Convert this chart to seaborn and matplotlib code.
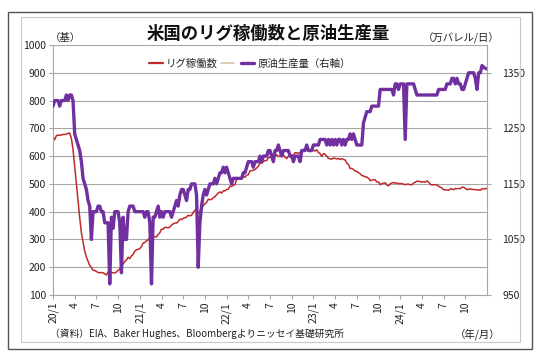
import numpy as np
import pandas as pd
import matplotlib
matplotlib.use("Agg")
import matplotlib.pyplot as plt
import seaborn as sns
from matplotlib.lines import Line2D
from matplotlib.patches import Rectangle

# ---------------- data (weekly, Fridays, from 2020-01-03) ----------------
start_date = "2020-01-03"

rig_count = [
    # 2020
    670, 659, 673, 676, 675, 676, 678, 678, 679, 682, 683, 664, 624,
    562, 504, 438, 378, 325, 292, 258, 237, 222, 206, 199, 189, 188,
    185, 181, 180, 181, 180, 176, 172, 183, 180, 181, 180, 179, 183,
    189, 193, 205, 211, 221, 226, 236, 231, 241, 246, 258, 263, 264,
    # 2021
    267, 275, 287, 289, 295, 299, 306, 305, 309, 310, 309, 318, 324,
    337, 337, 344, 343, 342, 344, 352, 356, 359, 359, 365, 373, 372,
    376, 378, 380, 387, 385, 387, 397, 405, 410, 394, 401, 411, 421,
    428, 433, 445, 443, 444, 450, 454, 461, 467, 471, 467, 475, 475, 480,
    # 2022
    481, 492, 491, 495, 497, 516, 520, 522, 519, 527, 524, 531, 533,
    546, 548, 549, 552, 557, 563, 576, 574, 580, 584, 584, 594, 595,
    597, 599, 599, 605, 598, 601, 601, 605, 596, 591, 599, 602, 604,
    602, 612, 612, 610, 613, 622, 623, 627, 625, 627, 622, 621, 621,
    # 2023
    618, 623, 613, 609, 599, 609, 607, 600, 592, 590, 589, 593, 592,
    590, 591, 588, 591, 588, 586, 575, 570, 555, 556, 552, 546, 545,
    540, 537, 530, 529, 525, 525, 520, 512, 513, 515, 515, 507, 507,
    497, 501, 502, 504, 496, 493, 500, 503, 505, 503, 503, 501, 501,
    # 2024
    501, 499, 497, 499, 499, 497, 497, 503, 506, 510, 509, 509, 506,
    508, 506, 511, 506, 499, 496, 497, 497, 496, 492, 488, 485, 479,
    479, 478, 477, 482, 482, 479, 483, 483, 483, 483, 488, 488, 484,
    479, 481, 482, 480, 480, 479, 478, 479, 477, 482, 482, 483, 483,
]

oil_output = [
    # 2020
    1290, 1300, 1300, 1300, 1290, 1300, 1300, 1300, 1310, 1300, 1310, 1310, 1300,
    1240, 1230, 1220, 1210, 1190, 1160, 1150, 1140, 1120, 1110, 1050, 1100, 1100,
    1100, 1110, 1110, 1100, 1100, 1080, 1080, 1080, 970, 1090, 1070, 1100, 1100,
    1100, 1080, 990, 1090, 1050, 1050, 1100, 1110, 1110, 1110, 1100, 1100, 1100,
    # 2021
    1100, 1100, 1100, 1090, 1100, 1100, 1080, 970, 1090, 1090, 1100, 1110, 1090,
    1100, 1090, 1100, 1100, 1100, 1100, 1090, 1100, 1110, 1120, 1110, 1130, 1140,
    1140, 1130, 1120, 1140, 1140, 1150, 1150, 1150, 1130, 1000, 1080, 1110, 1130,
    1140, 1130, 1140, 1150, 1150, 1150, 1160, 1150, 1160, 1170, 1170, 1180, 1170, 1180,
    # 2022
    1170, 1160, 1150, 1160, 1160, 1160, 1160, 1160, 1160, 1170, 1170, 1180, 1190,
    1190, 1190, 1180, 1190, 1190, 1190, 1200, 1190, 1200, 1200, 1200, 1210, 1210,
    1200, 1190, 1210, 1210, 1220, 1210, 1200, 1210, 1210, 1210, 1210, 1200, 1200,
    1190, 1200, 1200, 1200, 1190, 1210, 1210, 1210, 1220, 1210, 1210, 1210, 1220,
    # 2023
    1220, 1220, 1220, 1230, 1230, 1230, 1230, 1220, 1230, 1220, 1230, 1220, 1230,
    1220, 1230, 1230, 1220, 1230, 1220, 1230, 1230, 1240, 1230, 1240, 1230, 1220,
    1220, 1220, 1220, 1260, 1270, 1280, 1280, 1280, 1290, 1290, 1290, 1290, 1290,
    1320, 1320, 1320, 1320, 1320, 1320, 1320, 1320, 1310, 1330, 1330, 1320, 1330,
    # 2024
    1330, 1330, 1230, 1330, 1330, 1330, 1330, 1330, 1320, 1310, 1310, 1310, 1310,
    1310, 1310, 1310, 1310, 1310, 1310, 1310, 1310, 1310, 1320, 1320, 1320, 1320,
    1320, 1330, 1330, 1330, 1340, 1340, 1330, 1340, 1330, 1330, 1320, 1320, 1330,
    1340, 1350, 1350, 1350, 1350, 1340, 1320, 1350, 1350, 1363, 1360, 1358, 1357,
]

x_tick_labels = ["20/1", "4", "7", "10", "21/1", "4", "7", "10", "22/1", "4",
                 "7", "10", "23/1", "4", "7", "10", "24/1", "4", "7", "10"]
left_ticks = [100, 200, 300, 400, 500, 600, 700, 800, 900, 1000]
right_ticks = [950, 1050, 1150, 1250, 1350]

# ---------------- style ----------------
sns.set_style("white")
plt.rcParams['font.family'] = ['Noto Sans CJK JP', 'DejaVu Sans']

dates = pd.date_range(start_date, periods=len(rig_count), freq="W-FRI")
df = pd.DataFrame({"date": dates, "rig": rig_count, "oil": oil_output})

W, H = 540, 360
fig = plt.figure(figsize=(W / 100, H / 100), dpi=100)

# frames
fig.patches.append(Rectangle((8 / W, 1 - 349 / H), (532 - 8) / W, (349 - 12) / H,
                             transform=fig.transFigure, fill=False,
                             edgecolor="#555555", lw=1.0))
fig.patches.append(Rectangle((21 / W, 1 - 342 / H), (520 - 21) / W, (342 - 17) / H,
                             transform=fig.transFigure, fill=False,
                             edgecolor="#C8C8C8", lw=0.8))

ax = fig.add_axes([53 / W, 1 - 295 / H, (487 - 53) / W, (295 - 45) / H])
ax2 = ax.twinx()

red = "#BE2A2A"
purple = "#7030A0"
grid_c = "#A6A6A6"

sns.lineplot(data=df, x="date", y="rig", ax=ax, color=red, lw=1.1, legend=False)
sns.lineplot(data=df, x="date", y="oil", ax=ax2, color=purple, lw=2.4, legend=False)

ax.set_ylim(100, 1000)
ax2.set_ylim(950, 1400)
ax.set_xlim(dates[0], dates[-1])
ax.set_yticks(left_ticks)
ax2.set_yticks(right_ticks)

tick_pos = dates[::13][:len(x_tick_labels)]
ax.set_xticks(tick_pos)
ax.set_xticklabels(x_tick_labels, rotation=90, fontsize=7.5, color="#222222")

ax.yaxis.grid(True, color=grid_c, lw=0.8)
ax.xaxis.grid(False)
ax2.grid(False)
ax.set_axisbelow(True)

for a in (ax, ax2):
    a.set_xlabel("")
    a.set_ylabel("")
    for s in a.spines.values():
        s.set_color(grid_c)
        s.set_linewidth(0.8)
    a.spines["top"].set_visible(False)
ax.spines["right"].set_visible(False)
ax2.spines["left"].set_visible(False)
ax2.spines["bottom"].set_visible(False)

ax.tick_params(axis="y", length=3, color=grid_c, labelsize=7.5, pad=2, labelcolor="#222222", left=True)
ax.tick_params(axis="x", length=3, color=grid_c, pad=2, bottom=True)
ax2.tick_params(axis="y", length=3, color=grid_c, labelsize=7.5, pad=8, labelcolor="#222222", right=True)

# texts
fig.text(268 / W, 1 - 34 / H, "米国のリグ稼働数と原油生産量", ha="center", va="center",
         fontsize=12.5, fontweight="bold", color="#111111")
fig.text(50 / W, 1 - 38 / H, "（基）", ha="left", va="center", fontsize=7.5, color="#222222")
fig.text(500 / W, 1 - 38 / H, "（万バレル/日）", ha="right", va="center", fontsize=7.5, color="#222222")
fig.text(50 / W, 1 - 334 / H, "（資料）EIA、Baker Hughes、Bloombergよりニッセイ基礎研究所",
         ha="left", va="center", fontsize=7, color="#222222")
fig.text(500 / W, 1 - 334 / H, "（年/月）", ha="right", va="center", fontsize=7.5, color="#222222")

handles = [Line2D([], [], color=red, lw=1.6),
           Line2D([], [], color="#D9C3A5", lw=1.2),
           Line2D([], [], color=purple, lw=2.4)]
labels = ["リグ稼働数", "", "原油生産量（右軸）"]
fig.legend(handles, labels, loc="center", bbox_to_anchor=(250 / W, 1 - 64 / H),
           ncol=3, frameon=False, fontsize=7.5, handlelength=1.3, handletextpad=0.3,
           columnspacing=0.3)

fig.savefig("out.png", dpi=100)
